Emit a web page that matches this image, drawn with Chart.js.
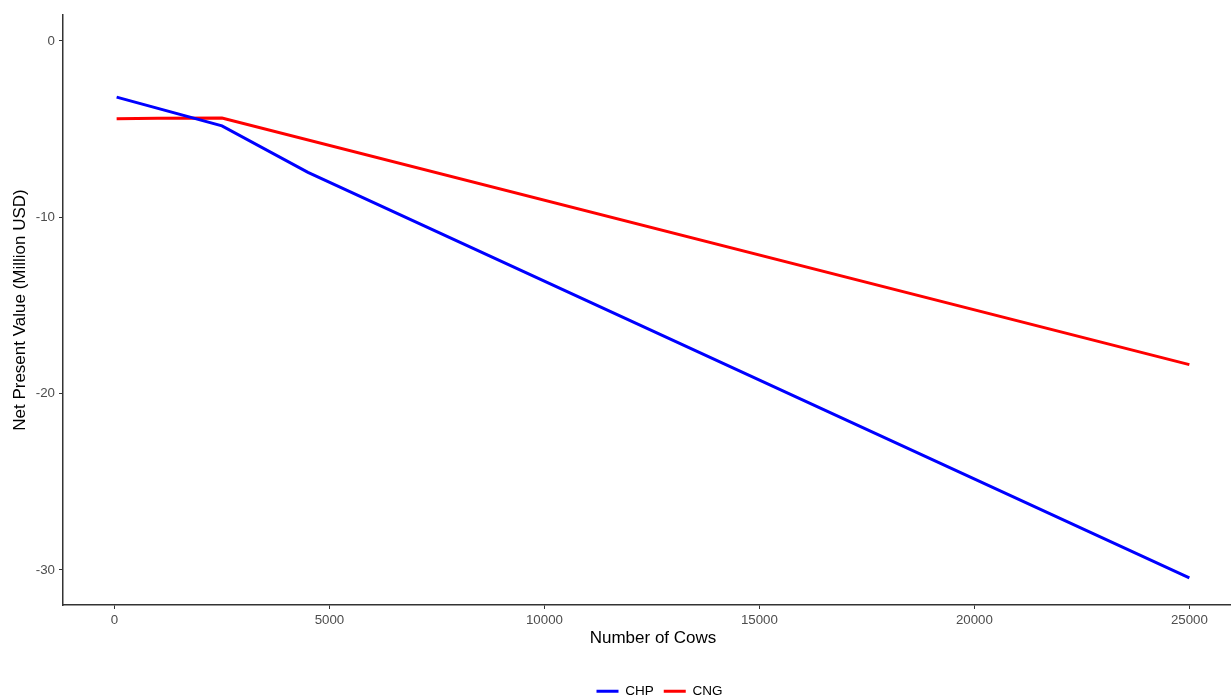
<!DOCTYPE html>
<html>
<head>
<meta charset="utf-8">
<script src="https://cdn.jsdelivr.net/npm/chart.js@4/dist/chart.umd.min.js"></script>
<style>
html, body { margin: 0; padding: 0; background: #ffffff; overflow: hidden; width: 1231px; height: 698px; }
#wrap { width: 1243px; height: 698px; }
</style>
</head>
<body>
<div id="wrap"><canvas id="c" width="1243" height="698"></canvas></div>
<script>
// Data
const seriesNames = ["CHP", "CNG"];
const chpCows = [50, 2500, 4500, 25000];
const chpNPV = [-3.19, -4.82, -7.45, -30.45];
const cngCows = [50, 1000, 2500, 25000];
const cngNPV = [-4.42, -4.38, -4.37, -18.36];
const xTicks = [0, 5000, 10000, 15000, 20000, 25000];
const yTicks = [-30, -20, -10, 0];

const toPts = (xs, ys) => xs.map((x, i) => ({ x: x, y: ys[i] }));

const legendShift = {
  id: 'legendShift',
  afterLayout(chart) {
    if (chart.legend) {
      chart.legend.left += 38;
      chart.legend.right += 38;
      chart.legend.top += 10;
      chart.legend.bottom += 10;
    }
  }
};

const FONT = '"Liberation Sans", Arial, sans-serif';

new Chart(document.getElementById('c'), {
  type: 'line',
  data: {
    datasets: [
      { label: seriesNames[0], data: toPts(chpCows, chpNPV), borderColor: '#0000FF', backgroundColor: '#0000FF', borderWidth: 3, pointRadius: 0, tension: 0 },
      { label: seriesNames[1], data: toPts(cngCows, cngNPV), borderColor: '#FF0000', backgroundColor: '#FF0000', borderWidth: 3, pointRadius: 0, tension: 0 }
    ]
  },
  options: {
    responsive: false,
    animation: false,
    events: [],
    layout: { padding: { top: 15, right: 0, bottom: 0, left: 0 } },
    plugins: {
      tooltip: { enabled: false },
      legend: {
        position: 'bottom',
        labels: {
          usePointStyle: true,
          pointStyle: 'line',
          pointStyleWidth: 22,
          padding: 10,
          color: '#000000',
          font: { family: FONT, size: 13.5 }
        }
      }
    },
    scales: {
      x: {
        type: 'linear',
        min: -1197.5,
        max: 26247.5,
        afterBuildTicks(s) { s.ticks = xTicks.map(v => ({ value: v })); },
        afterFit(s) { s.height = 59.5; },
        grid: { display: true, drawOnChartArea: false, drawTicks: true, tickLength: 4, color: '#333333', lineWidth: 1 },
        border: { display: true, color: '#333333', width: 1.5 },
        ticks: { color: '#4D4D4D', font: { family: FONT, size: 13.3 }, padding: 3, maxRotation: 0, autoSkip: false, callback: v => String(v) },
        title: { display: true, text: 'Number of Cows', color: '#000000', font: { family: FONT, size: 17 }, padding: { top: 0, bottom: 16.3 } }
      },
      y: {
        type: 'linear',
        min: -31.99,
        max: 1.47,
        afterBuildTicks(s) { s.ticks = yTicks.map(v => ({ value: v })); },
        afterFit(s) { s.width = 63; },
        grid: { display: true, drawOnChartArea: false, drawTicks: true, tickLength: 4, color: '#333333', lineWidth: 1 },
        border: { display: true, color: '#333333', width: 1.5 },
        ticks: { color: '#4D4D4D', font: { family: FONT, size: 13.3 }, padding: 4, autoSkip: false, callback: v => String(v) },
        title: { display: true, text: 'Net Present Value (Million USD)', color: '#000000', font: { family: FONT, size: 17 }, padding: { top: 10.5, bottom: 0 } }
      }
    }
  },
  plugins: [legendShift]
});
</script>
</body>
</html>
